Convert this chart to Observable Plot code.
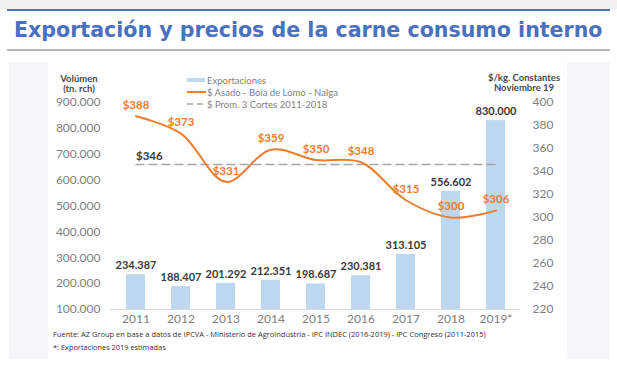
<!DOCTYPE html>
<html>
<head>
<meta charset="utf-8">
<script src="https://cdn.jsdelivr.net/npm/d3@7"></script>
<script src="https://cdn.jsdelivr.net/npm/@observablehq/plot@0.6"></script>
<style>
  html, body { margin:0; padding:0; background:#fff; }
  #page { position:relative; width:617px; height:365px; overflow:hidden; background:#fff; font-family:Lato, "Open Sans", sans-serif; }
  .abs { position:absolute; white-space:nowrap; }
  #topstrip { left:0; top:0; width:617px; height:9px; background:#f1f1f1; }
  #blueline { left:7px; top:9px; width:603px; height:2px; background:#4a70c0; }
  #grayline { left:7px; top:49px; width:603px; height:2px; background:#b5b5b5; }
  #title { left:14px; top:18px; font-family:"DejaVu Sans", sans-serif; font-weight:700; font-size:20px; color:#4a70c0; line-height:24px; }
  #panel { left:9px; top:62px; width:601px; height:297px; background:#f5f6fa; }
  #white { left:48px; top:62px; width:519px; height:297px; background:#fff; }
  #chart { left:0; top:62px; }
  .axt { font-weight:700; font-size:9.5px; color:#4a4a4a; text-align:center; line-height:10px; }
  .leg { font-size:9.5px; color:#7f7f7f; display:flex; align-items:center; }
  .foot { font-family:"Open Sans", sans-serif; font-size:7.4px; color:#333; }
</style>
</head>
<body>
<div id="page">
  <div class="abs" id="topstrip"></div>
  <div class="abs" id="blueline"></div>
  <div class="abs" id="grayline"></div>
  <div class="abs" id="title">Exportación y precios de la carne consumo interno</div>
  <div class="abs" id="panel"></div>
  <div class="abs" id="white"></div>
  <div class="abs" id="chart"></div>
  <div class="abs axt" style="left:49px;top:74px;width:60px;">Volúmen<br>(tn. rch)</div>
  <div class="abs axt" style="left:479px;top:73px;width:90px;">$/kg. Constantes<br>Noviembre 19</div>
  <div class="abs leg" style="left:187px;top:74px;"><svg width="20" height="12"><rect x="0" y="4" width="18" height="4" fill="#bdd7ee"/></svg><span>Exportaciones</span></div>
  <div class="abs leg" style="left:187px;top:86px;"><svg width="20" height="12"><line x1="0" y1="6" x2="19" y2="6" stroke="#ed7d31" stroke-width="2"/></svg><span>$ Asado - Bola de Lomo - Nalga</span></div>
  <div class="abs leg" style="left:187px;top:98px;"><svg width="20" height="12"><line x1="0" y1="6" x2="19" y2="6" stroke="#a6a6a6" stroke-width="1.5" stroke-dasharray="6 4"/></svg><span>$ Prom. 3 Cortes 2011-2018</span></div>
  <div class="abs foot" id="foot1" style="left:53px;top:329px;">Fuente: AZ Group en base a datos de IPCVA - Ministerio de Agroindustria - IPC INDEC (2016-2019) - IPC Congreso (2011-2015)</div>
  <div class="abs foot" id="foot2" style="left:53px;top:342px;">*: Exportaciones 2019 estimadas</div>
</div>
<script>
// ---- data ----
const years = ["2011","2012","2013","2014","2015","2016","2017","2018","2019*"];
const volumes = [234387, 188407, 201292, 212351, 198687, 230381, 313105, 556602, 830000];
const prices = [388, 373, 331, 359, 350, 348, 315, 300, 306];
const avgPrice = 346;
const avgYears = ["2011", "2019*"];
const leftTicks = [100000, 200000, 300000, 400000, 500000, 600000, 700000, 800000, 900000];
const rightTicks = [220, 240, 260, 280, 300, 320, 340, 360, 380, 400];

// ---- helpers ----
const loc = d3.formatLocale({decimal: ",", thousands: ".", grouping: [3], currency: ["$", ""]});
const fmt = loc.format(",d");
const vMin = 100000, vMax = 900000, pMin = 220, pMax = 400;
const conv = p => vMin + (p - pMin) / (pMax - pMin) * (vMax - vMin);
const inv = v => pMin + (v - vMin) / (vMax - vMin) * (pMax - pMin);

const rows = years.map((y, i) => ({year: y, vol: volumes[i], price: prices[i]}));
const avgRows = avgYears.map(y => ({year: y, price: avgPrice}));

const orange = "#ed7d31";
const tickGray = "#7f7f7f";

const chart = Plot.plot({
  width: 617,
  height: 297,
  marginTop: 40,
  marginBottom: 50,
  marginLeft: 110,
  marginRight: 97,
  style: {background: "transparent", fontFamily: "Lato, sans-serif"},
  x: {domain: years, paddingInner: 0.58, paddingOuter: 0.29, axis: null},
  y: {domain: [vMin, vMax], axis: null},
  marks: [
    Plot.barY(rows, {x: "year", y1: vMin, y2: "vol", fill: "#bdd7ee"}),
    Plot.ruleY([vMin], {stroke: "#d9d9d9", strokeWidth: 1}),
    Plot.axisY({anchor: "left", label: null, ticks: leftTicks, tickFormat: fmt, tickSize: 0, tickPadding: 10, fontSize: 12, color: tickGray, fill: tickGray}),
    Plot.axisY({anchor: "right", label: null, ticks: rightTicks.map(conv), tickFormat: v => String(Math.round(inv(v))), tickSize: 0, tickPadding: 12, fontSize: 12, color: tickGray, fill: tickGray}),
    Plot.axisX({label: null, tickSize: 0, tickPadding: 5, fontSize: 12, color: tickGray, fill: tickGray}),
    Plot.text(rows, {x: "year", y: "vol", text: d => fmt(d.vol), dy: -9, fontSize: 11, fontWeight: 700, fill: "#3a3a3a"}),
    Plot.line(avgRows, {x: "year", y: d => conv(d.price), stroke: "#a6a6a6", strokeWidth: 1.5, strokeDasharray: "8 5"}),
    Plot.text(avgRows.slice(0, 1), {x: "year", y: d => conv(d.price), text: d => "$" + d.price, textAnchor: "start", dy: -8, fontSize: 11.5, fontWeight: 700, fill: "#3a3a3a"}),
    Plot.line(rows, {x: "year", y: d => conv(d.price), curve: "catmull-rom", stroke: orange, strokeWidth: 2}),
    Plot.text(rows, {x: "year", y: d => conv(d.price), text: d => "$" + d.price, dy: -11, fontSize: 11.5, fontWeight: 700, fill: orange})
  ]
});
document.getElementById("chart").appendChild(chart);

// fit text widths to the reference layout
function fit(id, target) {
  const el = document.getElementById(id);
  const fs = parseFloat(getComputedStyle(el).fontSize);
  const w = el.getBoundingClientRect().width;
  el.style.fontSize = (fs * target / w) + "px";
}
fit("title", 589);
fit("foot1", 433);
</script>
</body>
</html>
